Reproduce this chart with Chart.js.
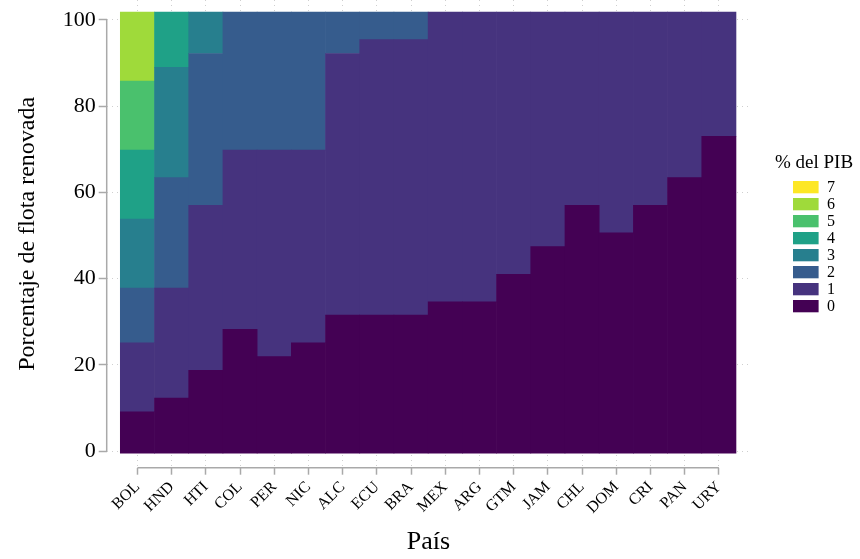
<!DOCTYPE html>
<html>
<head>
<meta charset="utf-8">
<script src="https://cdn.jsdelivr.net/npm/chart.js@4"></script>
<style>
  html, body { margin: 0; padding: 0; background: #fff; }
  #wrap { width: 860px; height: 559px; }
</style>
</head>
<body>
<div id="wrap"><canvas id="flota"></canvas></div>
<script>
const paises = ['BOL', 'HND', 'HTI', 'COL', 'PER', 'NIC', 'ALC', 'ECU', 'BRA',
                'MEX', 'ARG', 'GTM', 'JAM', 'CHL', 'DOM', 'CRI', 'PAN', 'URY'];
const niveles = ['0', '1', '2', '3', '4', '5', '6', '7'];
const colores = ['#440154', '#46337e', '#365c8d', '#277f8e', '#1fa187', '#4ac16d', '#9fda3a', '#fde725'];
const yTicks = [0, 20, 40, 60, 80, 100];

// bottom edge of the tiles, and upper edge of each % del PIB band per country
// (null = that band does not appear in the column)
const piso = -0.5;
const techo0 = [9.1, 12.3, 18.7, 28.2, 21.9, 25.1, 31.5, 31.5, 31.5, 34.6, 34.6, 41.0, 47.4, 57.0, 50.6, 57.0, 63.4, 73.0];
const techo1 = [25.1, 37.8, 57.0, 69.8, 69.8, 69.8, 92.2, 95.4, 95.4, 101.8, 101.8, 101.8, 101.8, 101.8, 101.8, 101.8, 101.8, 101.8];
const techo2 = [37.8, 63.4, 92.2, 101.8, 101.8, 101.8, 101.8, 101.8, 101.8, null, null, null, null, null, null, null, null, null];
const techo3 = [53.8, 89.0, 101.8, null, null, null, null, null, null, null, null, null, null, null, null, null, null, null];
const techo4 = [69.8, 101.8, null, null, null, null, null, null, null, null, null, null, null, null, null, null, null, null];
const techo5 = [85.8, null, null, null, null, null, null, null, null, null, null, null, null, null, null, null, null, null];
const techo6 = [101.8, null, null, null, null, null, null, null, null, null, null, null, null, null, null, null, null, null];
const techo7 = paises.map(() => null);

const techos = [techo0, techo1, techo2, techo3, techo4, techo5, techo6, techo7];

// each band is a floating bar from the previous band's top to its own top
function tramos(k) {
  const out = [];
  paises.forEach((p, i) => {
    const hi = techos[k][i];
    if (hi === null) return;
    let lo = piso;
    for (let j = 0; j < k; j++) {
      if (techos[j][i] !== null) lo = techos[j][i];
    }
    out.push({ x: i, y: [lo, hi] });
  });
  return out;
}

const serif = '"Liberation Serif", "Times New Roman", serif';
const gris = '#a9a9a9';

// axis lines only span the data range (0-100 and BOL-URY)
const marcoRango = {
  id: 'marcoRango',
  afterDraw(chart) {
    const { ctx, chartArea, scales: { x, y } } = chart;
    ctx.save();
    ctx.strokeStyle = gris;
    ctx.lineWidth = 1.5;
    ctx.beginPath();
    ctx.moveTo(chartArea.left, y.getPixelForValue(0));
    ctx.lineTo(chartArea.left, y.getPixelForValue(100));
    ctx.moveTo(x.getPixelForValue(0), chartArea.bottom);
    ctx.lineTo(x.getPixelForValue(paises.length - 1), chartArea.bottom);
    ctx.stroke();
    ctx.restore();
  }
};

// colour key on the right, highest level first
const leyendaPib = {
  id: 'leyendaPib',
  afterDraw(chart) {
    const ctx = chart.ctx;
    ctx.save();
    ctx.fillStyle = '#000';
    ctx.font = '19px ' + serif;
    ctx.textAlign = 'center';
    ctx.textBaseline = 'alphabetic';
    ctx.fillText('% del PIB', 814, 168);
    const items = chart.data.datasets.slice().reverse();
    items.forEach((ds, i) => {
      const top = 181 + i * 17;
      ctx.fillStyle = ds.backgroundColor;
      ctx.fillRect(793, top, 25.6, 12.3);
      ctx.fillStyle = '#000';
      ctx.font = '16px ' + serif;
      ctx.textAlign = 'left';
      ctx.textBaseline = 'middle';
      ctx.fillText(ds.label, 827, top + 6.5);
    });
    ctx.restore();
  }
};

new Chart('flota', {
  type: 'bar',
  data: {
    datasets: niveles.map((n, k) => ({
      label: n,
      data: tramos(k),
      backgroundColor: colores[k],
      borderWidth: 0,
      barPercentage: 1,
      categoryPercentage: 1,
      grouped: false
    }))
  },
  options: {
    responsive: true,
    maintainAspectRatio: false,
    animation: false,
    layout: { padding: { left: 0, right: 110, top: 0, bottom: 0 } },
    plugins: {
      legend: { display: false },
      tooltip: { enabled: false }
    },
    scales: {
      x: {
        type: 'linear',
        offset: false,
        min: -0.898,
        max: 17.91,
        afterBuildTicks: (scale) => { scale.ticks = paises.map((p, i) => ({ value: i })); },
        afterFit: (scale) => {
          scale.height = 91.3;
          scale.paddingLeft = 0;
          scale.paddingRight = 0;
        },
        ticks: {
          autoSkip: false,
          minRotation: 45,
          maxRotation: 45,
          padding: 3,
          color: '#000',
          font: { family: serif, size: 16 },
          callback: (v) => paises[v]
        },
        grid: {
          offset: false,
          color: '#cfcfcf',
          lineWidth: 1,
          tickLength: 7,
          tickColor: gris,
          tickWidth: 1.5
        },
        border: { display: false, dash: [1, 4] },
        title: {
          display: true,
          text: 'País',
          color: '#000',
          font: { family: serif, size: 26 },
          padding: { top: 0, bottom: 1.5 }
        }
      },
      y: {
        type: 'linear',
        min: -3.87,
        max: 104.6,
        afterBuildTicks: (scale) => { scale.ticks = yTicks.map(v => ({ value: v })); },
        afterFit: (scale) => {
          scale.width = 106.7;
          scale.paddingTop = 0;
          scale.paddingBottom = 0;
        },
        ticks: {
          padding: 3,
          color: '#000',
          font: { family: serif, size: 22 }
        },
        grid: {
          color: '#cfcfcf',
          lineWidth: 1,
          tickLength: 8,
          tickColor: gris,
          tickWidth: 1.5
        },
        border: { display: false, dash: [1, 4] },
        title: {
          display: true,
          text: 'Porcentaje de flota renovada',
          color: '#000',
          font: { family: serif, size: 24 },
          padding: { top: 13, bottom: 0 }
        }
      }
    }
  },
  plugins: [marcoRango, leyendaPib]
});
</script>
</body>
</html>
